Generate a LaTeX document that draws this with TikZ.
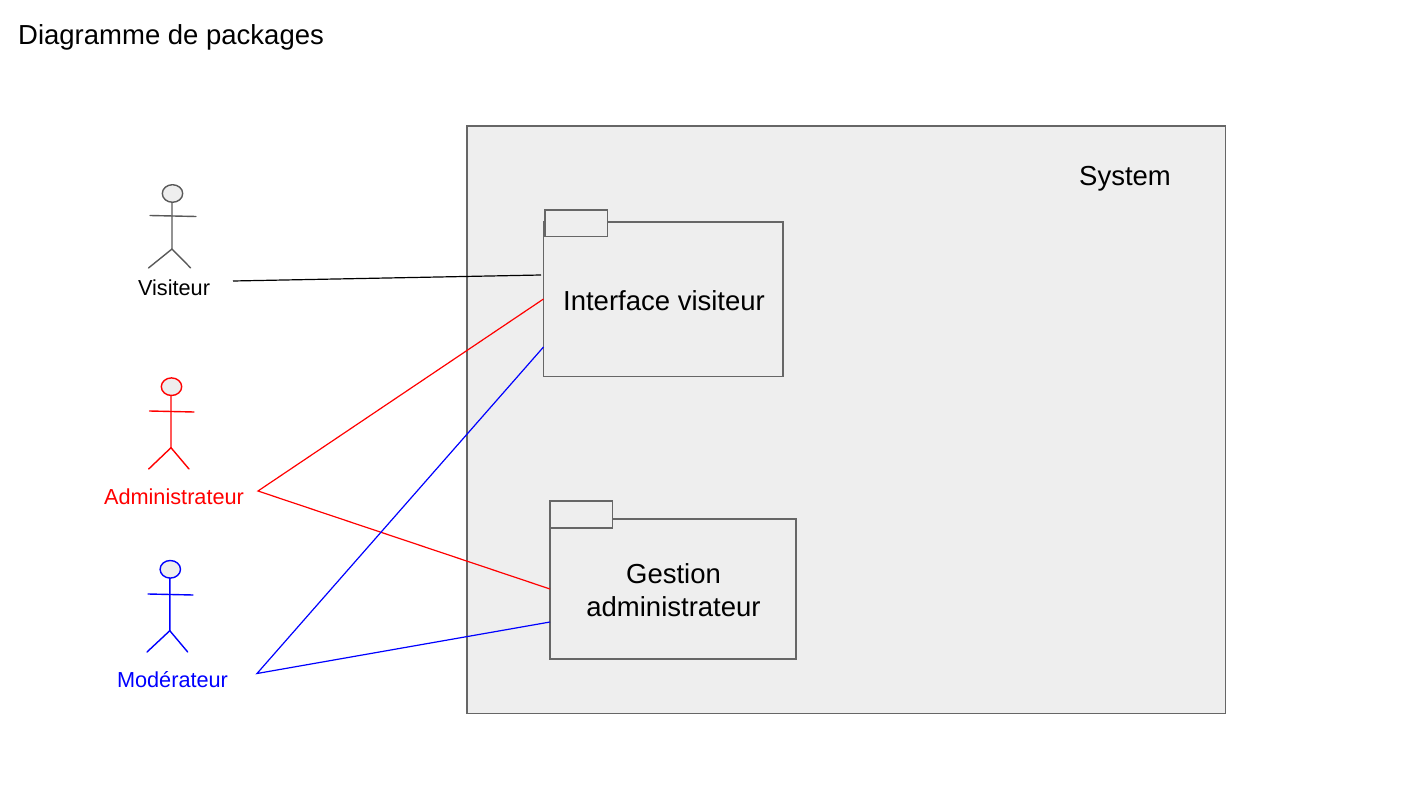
\documentclass[tikz,border=0pt]{standalone}
\usepackage{fontspec}
\setmainfont{Liberation Sans}
\definecolor{fillgrey}{HTML}{EEEEEE}
\definecolor{edgegrey}{HTML}{666666}
\definecolor{actorgrey}{HTML}{595959}
\definecolor{pure red}{HTML}{FF0000}
\definecolor{pure blue}{HTML}{0000FF}
\tikzset{
  boxstyle/.style={draw=edgegrey,fill=fillgrey,line width=1.3pt,rectangle,inner sep=0pt,outer sep=0pt,anchor=north west},
  actorline/.style={line width=1.4pt,line cap=round,line join=round},
  wire/.style={line width=1.2pt},
  smalltext/.style={font=\fontsize{21.7}{26}\selectfont,inner sep=0pt},
  bigtext/.style={font=\fontsize{27.5}{33}\selectfont,inner sep=0pt,align=center,text=black},
}
% colour, head x, head y, hip x, hip y, left foot x, right foot x, foot y
\newcommand{\stickfig}[8]{%
  \draw[actorline,draw=#1,fill=fillgrey] (#2,#3) ellipse [x radius=10.2,y radius=8.8];
  \draw[actorline,draw=#1] (#4,#3+8.8) -- (#4,#5) -- (#6,#8);
  \draw[actorline,draw=#1] (#4,#5) -- (#7,#8);
}
\begin{document}
\begin{tikzpicture}[x=1pt,y=-1pt]
\useasboundingbox (0,0) rectangle (1407,791);
\node[font=\fontsize{27.5}{33}\selectfont,inner sep=0pt,anchor=west] (title) at (18,37) {Diagramme de packages};

\node[boxstyle,minimum width=758.7pt,minimum height=587.7pt] (system) at (467,126) {};
\node[bigtext] (systemlabel) at (1125,178.5) {System};

\node[boxstyle,minimum width=239.5pt,minimum height=154.5pt] (pkgA) at (543.5,222) {};
\node[boxstyle,minimum width=62.5pt,minimum height=26.5pt] (tabA) at (545,210) {};
\node[bigtext] (pkgAlabel) at (664,301) {Interface visiteur};

\node[boxstyle,minimum width=246pt,minimum height=140pt] (pkgB) at (550,519) {};
\node[boxstyle,minimum width=62.5pt,minimum height=27pt] (tabB) at (550,501) {};
\node[bigtext] (pkgBlabel) at (673.5,590) {Gestion\\administrateur};

\stickfig{actorgrey}{172.5}{193.5}{172}{249}{148.5}{190.7}{268}
\draw[actorline,draw=actorgrey] (150,215.5) -- (196,216.5);
\stickfig{pure red}{171.5}{386.7}{171}{447.7}{148.7}{189}{469}
\draw[actorline,draw=pure red] (149.5,411) -- (194,412);
\stickfig{pure blue}{170.3}{569.3}{169.8}{630.7}{147}{187.7}{652}
\draw[actorline,draw=pure blue] (148,594) -- (193,595);

\node[smalltext,text=black] (visiteur) at (174,288) {Visiteur};
\node[smalltext,text=pure red] (admin) at (174,496.5) {Administrateur};
\node[smalltext,text=pure blue] (modo) at (172.5,680) {Modérateur};

\coordinate (vEnd) at (233,281);
\coordinate (aEnd) at (258,491);
\coordinate (mEnd) at (257,673.5);
\coordinate (pkgAtop) at (541,275);
\coordinate (pkgAmid) at (543.5,299);
\coordinate (pkgAlow) at (543.5,347);
\coordinate (pkgBmid) at (550,589);
\coordinate (pkgBlow) at (550,622);

\draw[wire,draw=black] (vEnd) -- (pkgAtop);
\draw[wire,draw=pure red] (pkgAmid) -- (aEnd) -- (pkgBmid);
\draw[wire,draw=pure blue] (pkgAlow) -- (mEnd) -- (pkgBlow);
\end{tikzpicture}
\end{document}
